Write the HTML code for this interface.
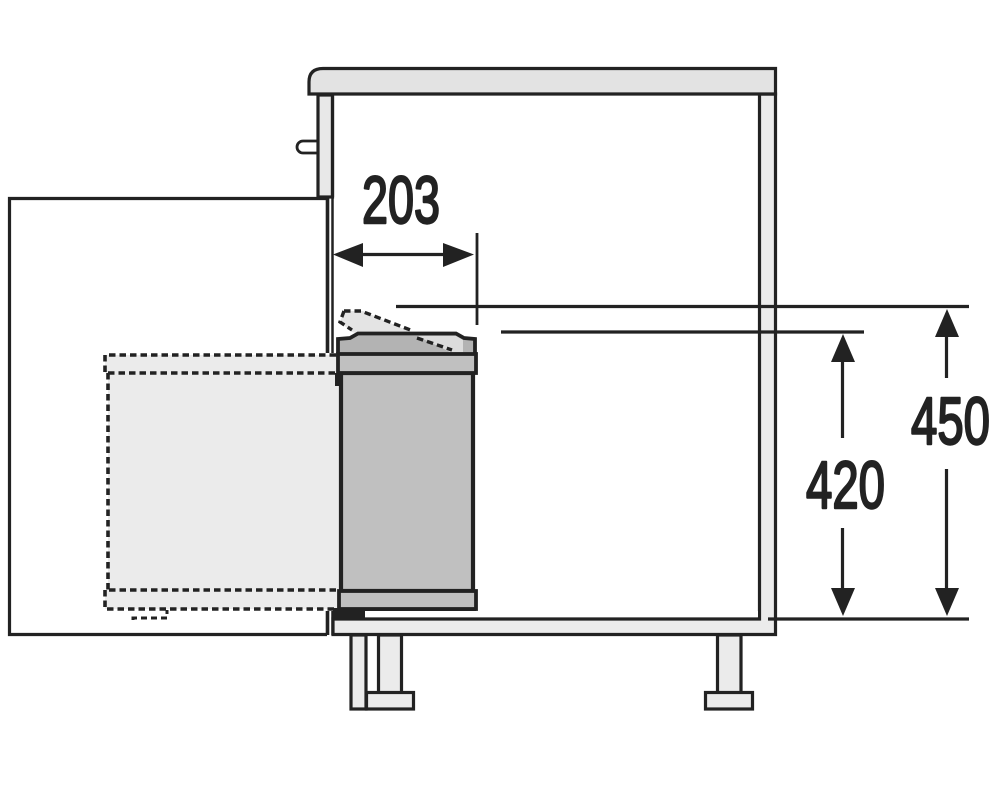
<!DOCTYPE html>
<html>
<head>
<meta charset="utf-8">
<style>
html,body{margin:0;padding:0;background:#fff}
svg{display:block}
text{font-family:"Liberation Sans",sans-serif;font-weight:400;fill:#222;stroke:#222;stroke-width:2.4px;stroke-linejoin:round}
</style>
</head>
<body>
<svg width="1000" height="799" viewBox="0 0 1000 799" xmlns="http://www.w3.org/2000/svg">
<rect width="1000" height="799" fill="#fff"/>
<g stroke="#222" stroke-width="3.2" fill="none">
  <!-- drawer front -->
  <path d="M327 198.500H9.500V634.500H327"/>
  <path d="M327.500 198V353M327.500 611V635" stroke-width="3.600"/>
  <path d="M332.500 197V353M332.500 611V635" stroke-width="2.500"/>
  <!-- knob -->
  <path d="M317 141H303a6 6 0 0 0 0 12H317" stroke-width="2.800" fill="#fff"/>
  <!-- door -->
  <rect x="318" y="95" width="14.500" height="102" fill="#e8e8e8"/>
  <!-- cabinet side -->
  <path d="M332.500 94V197"/>
  <!-- right and bottom panels -->
  <path d="M759.500 94V619H333V634.500H775.500V94Z" fill="#ebebeb"/>
  <!-- worktop -->
  <path d="M309 94V82Q309 68.500 323 68.500H775.500V94Z" fill="#e3e3e3"/>
  <!-- legs -->
  <rect x="351" y="635" width="15" height="74" fill="#ebebeb"/>
  <rect x="378.500" y="635" width="23" height="58" fill="#ebebeb"/>
  <rect x="366.500" y="692.500" width="47" height="16.500" fill="#ebebeb"/>
  <rect x="717.500" y="635" width="23.500" height="58" fill="#ebebeb"/>
  <rect x="705.500" y="692.500" width="47" height="16.500" fill="#ebebeb"/>
</g>
<!-- extended (dashed) bin -->
<rect x="108" y="373" width="232" height="218" fill="#ebebeb"/>
<rect x="105" y="355" width="235" height="18" fill="#ebebeb"/>
<rect x="105" y="590" width="235" height="19" fill="#ebebeb"/>
<g fill="none" stroke="#222" stroke-width="3.600" stroke-dasharray="6.500 4">
  <path d="M336 355H105V373H336"/>
  <path d="M108 373V590"/>
  <path d="M336 590H105V609H336"/>
  <path d="M133 620V618H167V610" stroke-width="3" stroke-dasharray="6 4"/>
</g>
<!-- tilted lid -->
<path d="M344 311L363 311L452 350H420L352 332L340 322Z" fill="#e4e4e4"/>
<!-- bin -->
<g stroke="#222" fill="#c0c0c0">
  <rect x="341" y="373" width="132" height="218" stroke-width="4.200"/>
  <path d="M338 355V339L350 338L358 333.500H456L464 338L475 339V355Z" fill="#b3b3b3" stroke-width="3.800"/>
  <path d="M417 336H456L463 340V352H450Z" fill="#dcdcdc" stroke="none"/>
  <rect x="338" y="354" width="138" height="19" stroke-width="3.800"/>
  <path d="M335 373H339V386H335Z" fill="#222" stroke="none"/>
  <rect x="339" y="591" width="137" height="18" stroke-width="3.800"/>
</g>
<g fill="none" stroke="#222" stroke-width="3.400" stroke-dasharray="6.500 4">
  <path d="M344 311L340 322L352 330"/>
  <path d="M344 311H361L413 331"/>
  <path d="M417 338L452 350"/>
</g>
<rect x="333" y="608" width="32" height="11" fill="#222"/>
<rect x="365" y="611" width="393" height="6" fill="#fff"/>
<path d="M365 609.500H476" stroke="#222" stroke-width="3"/>
<!-- dimension lines -->
<g stroke="#222" fill="none">
  <path d="M477 233V325" stroke-width="2.800"/>
  <path d="M396 306.500H969" stroke-width="3.200"/>
  <path d="M501 332H864" stroke-width="3.200"/>
  <path d="M768 619H969" stroke-width="3.200"/>
  <path d="M360 254.500H446" stroke-width="3.200"/>
  <path d="M842.500 360V438M842.500 528V590" stroke-width="3.200"/>
  <path d="M946.500 335V378M946.500 469V590" stroke-width="3.200"/>
</g>
<g fill="#222">
  <path d="M333 254.500L363 243V267Z"/>
  <path d="M474 254.500L443 243V267Z"/>
  <path d="M843 334L831 362H855Z"/>
  <path d="M843 616L831 588H855Z"/>
  <path d="M947 309L935 337H959Z"/>
  <path d="M947 616L935 588H959Z"/>
</g>
<text x="362" y="223" font-size="67" textLength="78" lengthAdjust="spacingAndGlyphs">203</text>
<text x="911" y="444" font-size="67" textLength="79" lengthAdjust="spacingAndGlyphs">450</text>
<text x="806" y="508" font-size="67" textLength="79" lengthAdjust="spacingAndGlyphs">420</text>
</svg>
</body>
</html>
